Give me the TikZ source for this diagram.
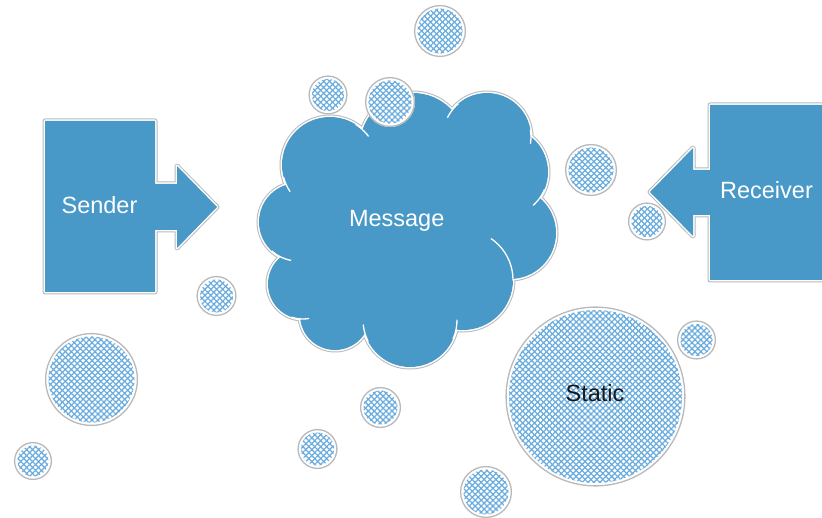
\documentclass[tikz,border=0pt]{standalone}
\usepackage{fontspec}
\setmainfont{Liberation Sans}
\usetikzlibrary{patterns.meta}

\definecolor{shapeblue}{RGB}{72,152,200}
\definecolor{rimgray}{RGB}{185,185,185}
\definecolor{hatchblue}{RGB}{105,172,222}
\definecolor{inkdark}{RGB}{25,25,25}

\tikzset{
  rimouter/.style={draw=rimgray, line width=5pt, line join=round},
  riminner/.style={draw=white, line width=3pt, line join=round},
  bodyfill/.style={fill=shapeblue},
  notchline/.style={draw=white, line width=1.3pt},
  tagtext/.style={font=\fontsize{23.5}{28}\selectfont, anchor=base, inner sep=0pt},
  hatchA/.style={pattern={Lines[angle=45,distance=4.2pt,line width=1.25pt]}, pattern color=hatchblue},
  hatchB/.style={pattern={Lines[angle=-45,distance=4.2pt,line width=1.25pt]}, pattern color=hatchblue},
  speckrim/.style={draw=rimgray, line width=1.3pt},
}

% a hatched "noise" bubble: centre x, centre y, radius (pt)
\newcommand\speck[3]{%
  \fill[white] (#1,#2) circle[radius=#3*1pt];
  \fill[hatchA] (#1,#2) circle[radius=(#3-3.5)*1pt];
  \fill[hatchB] (#1,#2) circle[radius=(#3-3.5)*1pt];
  \draw[speckrim] (#1,#2) circle[radius=(#3-0.6)*1pt];
}

% short inner stroke where two cloud lobes meet
\newcommand\cloudnotch[6]{%
  \begin{scope}
    \clip (#1,#2) circle[radius=#3*1pt];
    \draw[notchline] (#4,#5) circle[radius=#6*1pt];
  \end{scope}
}

% a blue shape with grey outer rim and white inner rim
\newcommand\rimmed[1]{%
  \draw[rimouter] #1;
  \draw[riminner] #1;
  \fill[bodyfill] #1;
}

\begin{document}
\begin{tikzpicture}[x=1pt, y=-1pt]
  \useasboundingbox (0,0) rectangle (822,518);
  \fill[white] (0,0) rectangle (822,518);

  % ---- Sender block arrow ----
  \rimmed{(45,121) -- (155,121) -- (155,184) -- (177,184) -- (177,166) -- (217,207)
          -- (177,248) -- (177,230) -- (155,230) -- (155,292) -- (45,292) -- cycle}

  % ---- Receiver block arrow ----
  \rimmed{(840,105) -- (710,105) -- (710,170) -- (693,170) -- (693,148) -- (650,192)
          -- (693,236) -- (693,215) -- (710,215) -- (710,280) -- (840,280) -- cycle}

  % ---- Message cloud: union of lobes ----
  \def\lobes{330/165/48, 413/146/53, 487/137/44, 503/172/45, 510/233/46,
             463/280/50, 410/320/47, 335/315/35, 303/284/35, 298/222/39}
  \foreach \cx/\cy/\cr in \lobes {\draw[rimouter] (\cx,\cy) circle[radius=\cr*1pt];}
  \foreach \cx/\cy/\cr in \lobes {\draw[riminner] (\cx,\cy) circle[radius=\cr*1pt];}
  \foreach \cx/\cy/\cr in \lobes {\fill[bodyfill] (\cx,\cy) circle[radius=\cr*1pt];}
  \fill[bodyfill] (405,225) ellipse[x radius=110pt, y radius=90pt];

  % lobe seams
  \cloudnotch{362.6}{129.8}{9}{330}{165}{48}
  \cloudnotch{452.1}{110.2}{9}{487}{137}{44}
  \cloudnotch{530.9}{136.8}{7}{487}{137}{44}
  \cloudnotch{539.7}{198.0}{10}{503}{172}{45}
  \cloudnotch{505}{258}{24}{463}{280}{50}
  \cloudnotch{456.0}{329.5}{10}{410}{320}{47}
  \cloudnotch{364.9}{333.3}{9}{410}{320}{47}
  \cloudnotch{300.2}{318.9}{9}{303}{284}{35}
  \cloudnotch{280.8}{257.1}{11}{298}{222}{39}
  \cloudnotch{286.3}{184.8}{8}{330}{165}{48}

  % ---- static bubbles ----
  \speck{440}{31}{26}
  \speck{328}{95}{19.5}
  \speck{390}{102}{25}
  \speck{591}{170}{26}
  \speck{647}{221.5}{19}
  \speck{216.5}{296}{20}
  \speck{91.5}{379.5}{46.5}
  \speck{33}{461}{19}
  \speck{595.5}{396.5}{90}
  \speck{696.5}{340}{19.5}
  \speck{380.5}{407.5}{20.5}
  \speck{317.5}{449}{20}
  \speck{486}{492}{26}

  % ---- labels ----
  \node[tagtext, text=white] (sender) at (99.5,213.3) {Sender};
  \node[tagtext, text=white] (message) at (396.7,226.7) {Message};
  \node[tagtext, text=white] (receiver) at (766.5,198.3) {Receiver};
  \node[tagtext, text=inkdark] (static) at (595,401.7) {Static};
\end{tikzpicture}
\end{document}
